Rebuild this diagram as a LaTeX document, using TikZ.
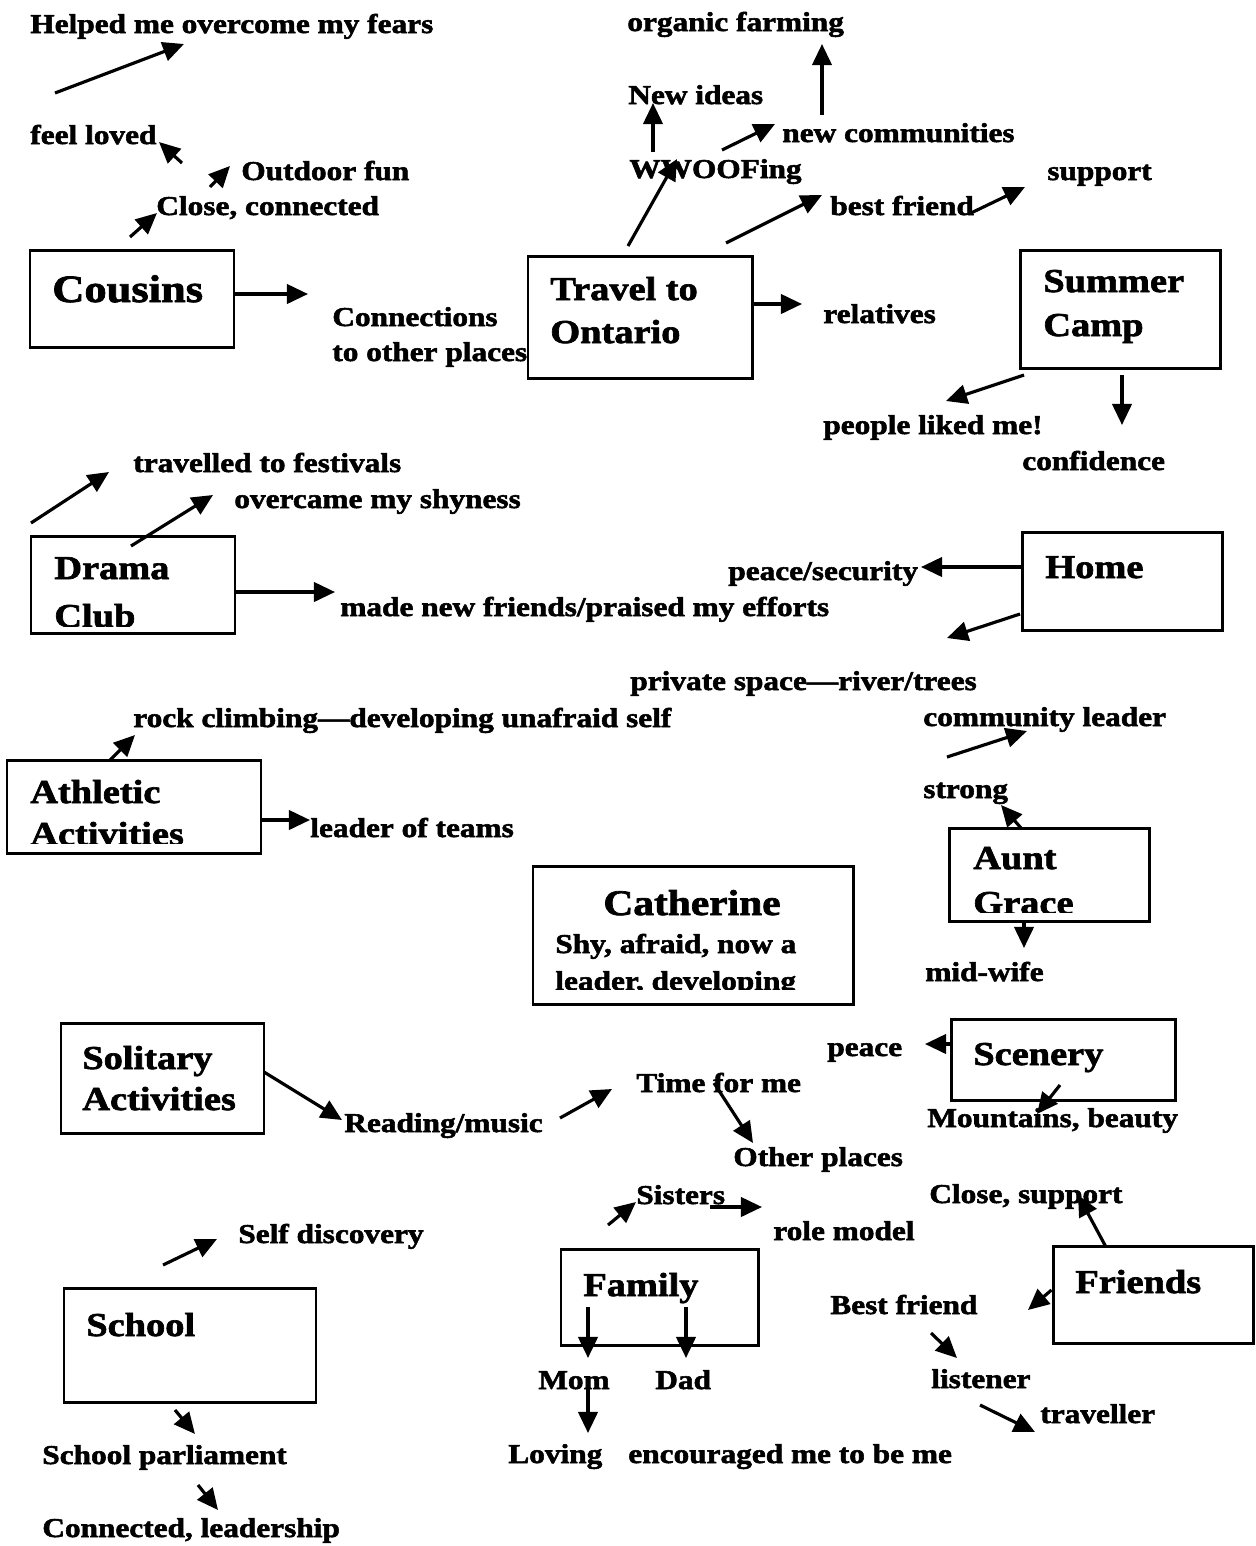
\documentclass[tikz,border=0pt]{standalone}
\usepackage{fontspec}
\setmainfont{Liberation Serif}[FakeStretch=1.15, BoldFont={Liberation Serif Bold}, BoldFeatures={FakeBold=2}]
\usepackage{tikz}
\usetikzlibrary{arrows.meta, fit}

\newcommand{\lblfont}{\fontsize{15.5}{17}\selectfont\bfseries}
\newcommand{\ttlfont}{\fontsize{19}{21}\selectfont\bfseries}

\tikzset{
  lbl/.style={anchor=base west, inner sep=0pt, font=\lblfont},
  ttl/.style={anchor=base west, inner sep=0pt, font=\ttlfont},
  box/.style={draw, line width=1.7pt, inner sep=0pt},
  arr/.style={line width=1.8pt, -{Triangle[length=12pt,width=11pt]}},
}

\begin{document}
\begin{tikzpicture}[x=0.02cm, y=-0.02cm]
    \path[use as bounding box, fill=white] (0,0) rectangle (1256,1546);

    % Boxes
    \node[box, fit={(30,250) (234,347)}] (cousins) {};
    \node[box, fit={(528,256) (752,378)}] (travel) {};
    \node[box, fit={(1020,250) (1220,368)}] (camp) {};
    \node[box, fit={(31,536) (235,633)}] (drama) {};
    \node[box, fit={(1022,532) (1222,630)}] (home) {};
    \node[box, fit={(7,760) (261,853)}] (athletic) {};
    \node[box, fit={(949,828) (1149,921)}] (aunt) {};
    \node[box, fit={(533,866) (853,1004)}] (catherine) {};
    \node[box, fit={(61,1023) (264,1133)}] (solitary) {};
    \node[box, fit={(951,1019) (1175,1100)}] (scenery) {};
    \node[box, fit={(561,1249) (758,1345)}] (family) {};
    \node[box, fit={(1053,1246) (1253,1343)}] (friends) {};
    \node[box, fit={(64,1288) (316,1402)}] (school) {};

    % Box titles
    \node[ttl, font=\fontsize{22}{24}\selectfont\bfseries] (cousinsT) at (52,302) {Cousins};
    \node[ttl] (travelT) at (550,300) {Travel to};
    \node[ttl] (travelU) at (550,343) {Ontario};
    \node[ttl] (campT) at (1043,292) {Summer};
    \node[ttl] (campU) at (1043,336) {Camp};
    \node[ttl] (dramaT) at (54,579) {Drama};
    \node[ttl] (homeT) at (1045,578) {Home};
    \node[ttl] (athleticT) at (30,803) {Athletic};
    \node[ttl] (auntT) at (973,869) {Aunt};
    \node[ttl, anchor=base, font=\fontsize{20.5}{22}\selectfont\bfseries] (catherineT) at (692,915) {Catherine};
    \node[lbl] (catherineU) at (555,953) {Shy, afraid, now a};
    \node[ttl] (solitaryT) at (82,1069) {Solitary};
    \node[ttl] (solitaryU) at (82,1110) {Activities};
    \node[ttl] (sceneryT) at (973,1065) {Scenery};
    \node[ttl] (familyT) at (583,1296) {Family};
    \node[ttl] (friendsT) at (1075,1293) {Friends};
    \node[ttl] (schoolT) at (86,1336) {School};

    % Lines cut off by the box bottoms
    \begin{scope}
        \clip (31,536) rectangle (235,626);
        \node[ttl] (dramaU) at (54,627) {Club};
    \end{scope}
    \begin{scope}
        \clip (7,760) rectangle (261,843);
        \node[ttl] (athleticU) at (30,845) {Activities};
    \end{scope}
    \begin{scope}
        \clip (949,828) rectangle (1149,912);
        \node[ttl] (auntU) at (973,914) {Grace};
    \end{scope}
    \begin{scope}
        \clip (533,866) rectangle (853,989);
        \node[lbl] (catherineV) at (555,990) {leader, developing};
    \end{scope}

    % Labels
    \node[lbl] (fears) at (30,33) {Helped me overcome my fears};
    \node[lbl] (organic) at (627,31) {organic farming};
    \node[lbl] (ideas) at (628,104) {New ideas};
    \node[lbl] (communities) at (782,142) {new communities};
    \node[lbl] (loved) at (30,144) {feel loved};
    \node[lbl] (wwoof) at (629,178) {WWOOFing};
    \node[lbl] (outdoor) at (241,180) {Outdoor fun};
    \node[lbl] (support) at (1047,180) {support};
    \node[lbl] (closeC) at (156,215) {Close, connected};
    \node[lbl] (bestfriend) at (830,215) {best friend};
    \node[lbl] (connect) at (332,326) {Connections};
    \node[lbl] (connectU) at (332,361) {to other places};
    \node[lbl] (relatives) at (823,323) {relatives};
    \node[lbl] (liked) at (823,434) {people liked me!};
    \node[lbl] (confidence) at (1022,470) {confidence};
    \node[lbl] (festivals) at (133,472) {travelled to festivals};
    \node[lbl] (shyness) at (234,508) {overcame my shyness};
    \node[lbl] (newfriends) at (340,616) {made new friends/praised my efforts};
    \node[lbl] (security) at (728,580) {peace/security};
    \node[lbl] (private) at (630,690) {private space---river/trees};
    \node[lbl] (rock) at (133,727) {rock climbing---developing unafraid self};
    \node[lbl] (commleader) at (923,726) {community leader};
    \node[lbl] (strong) at (923,798) {strong};
    \node[lbl] (teams) at (310,837) {leader of teams};
    \node[lbl] (midwife) at (925,981) {mid-wife};
    \node[lbl] (peace) at (827,1056) {peace};
    \node[lbl] (timeme) at (636,1092) {Time for me};
    \node[lbl] (reading) at (344,1132) {Reading/music};
    \node[lbl] (mountains) at (927,1127) {Mountains, beauty};
    \node[lbl] (places) at (733,1166) {Other places};
    \node[lbl] (sisters) at (636,1204) {Sisters};
    \node[lbl] (closeS) at (929,1203) {Close, support};
    \node[lbl] (role) at (773,1240) {role model};
    \node[lbl] (discovery) at (238,1243) {Self discovery};
    \node[lbl] (bestF) at (830,1314) {Best friend};
    \node[lbl] (mom) at (538,1389) {Mom};
    \node[lbl] (dad) at (655,1389) {Dad};
    \node[lbl] (listener) at (931,1388) {listener};
    \node[lbl] (traveller) at (1040,1423) {traveller};
    \node[lbl] (parliament) at (42,1464) {School parliament};
    \node[lbl] (loving) at (508,1463) {Loving};
    \node[lbl] (encouraged) at (628,1463) {encouraged me to be me};
    \node[lbl] (leadership) at (42,1537) {Connected, leadership};

    % Arrow ends
    \coordinate (fearsT) at (55,93);      \coordinate (fearsH) at (184,44);
    \coordinate (lovedT) at (182,163);    \coordinate (lovedH) at (159,142);
    \coordinate (funT) at (210,187);      \coordinate (funH) at (230,166);
    \coordinate (closeT) at (130,237);    \coordinate (closeH) at (157,213);
    \coordinate (connH) at (308,294);
    \coordinate (wwT) at (628,246);       \coordinate (wwH) at (677,159);
    \coordinate (ideaT) at (653,152);     \coordinate (ideaH) at (653,103);
    \coordinate (commT) at (722,150);     \coordinate (commH) at (775,124);
    \coordinate (orgT) at (822,115);      \coordinate (orgH) at (822,44);
    \coordinate (bfT) at (726,243);       \coordinate (bfH) at (822,195);
    \coordinate (supT) at (971,213);      \coordinate (supH) at (1025,187);
    \coordinate (relH) at (802,304);
    \coordinate (likedT) at (1024,375);   \coordinate (likedH) at (946,401);
    \coordinate (confT) at (1122,375);    \coordinate (confH) at (1122,425);
    \coordinate (festT) at (31,523);      \coordinate (festH) at (109,472);
    \coordinate (shyT) at (131,546);      \coordinate (shyH) at (213,495);
    \coordinate (nfH) at (335,592);
    \coordinate (secH) at (921,567);
    \coordinate (privT) at (1020,614);    \coordinate (privH) at (947,638);
    \coordinate (rockT) at (110,760);     \coordinate (rockH) at (135,735);
    \coordinate (teamH) at (310,820);
    \coordinate (cleadT) at (947,757);    \coordinate (cleadH) at (1027,731);
    \coordinate (strT) at (1021,828);     \coordinate (strH) at (1001,805);
    \coordinate (wifeH) at (1024,948);
    \coordinate (peaceH) at (925,1044);
    \coordinate (readT) at (264,1072);    \coordinate (readH) at (342,1120);
    \coordinate (timeT) at (560,1118);    \coordinate (timeH) at (612,1089);
    \coordinate (otherT) at (714,1083);   \coordinate (otherH) at (753,1143);
    \coordinate (mtnT) at (1060,1085);    \coordinate (mtnH) at (1037,1114);
    \coordinate (sisT) at (608,1225);     \coordinate (sisH) at (636,1202);
    \coordinate (roleT) at (710,1207);    \coordinate (roleH) at (762,1207);
    \coordinate (csT) at (1106,1247);     \coordinate (csH) at (1078,1195);
    \coordinate (bestS) at (1055,1290);   \coordinate (bestH) at (1028,1310);
    \coordinate (selfT) at (163,1265);    \coordinate (selfH) at (217,1239);
    \coordinate (momT) at (588,1307);     \coordinate (momH) at (588,1358);
    \coordinate (dadT) at (686,1307);     \coordinate (dadH) at (686,1358);
    \coordinate (lovT) at (588,1385);     \coordinate (lovH) at (588,1433);
    \coordinate (lisT) at (931,1333);     \coordinate (lisH) at (957,1358);
    \coordinate (travT) at (980,1405);    \coordinate (travH) at (1035,1432);
    \coordinate (parlT) at (175,1410);    \coordinate (parlH) at (195,1434);
    \coordinate (ldrT) at (198,1485);     \coordinate (ldrH) at (218,1510);

    % Cousins
    \draw[arr] (fearsT) -- (fearsH);
    \draw[arr] (lovedT) -- (lovedH);
    \draw[arr] (funT) -- (funH);
    \draw[arr] (closeT) -- (closeH);
    \draw[arr] (cousins.east |- connH) -- (connH);

    % Travel to Ontario
    \draw[arr] (wwT) -- (wwH);
    \draw[arr] (ideaT) -- (ideaH);
    \draw[arr] (commT) -- (commH);
    \draw[arr] (orgT) -- (orgH);
    \draw[arr] (bfT) -- (bfH);
    \draw[arr] (supT) -- (supH);
    \draw[arr] (travel.east |- relH) -- (relH);

    % Summer Camp
    \draw[arr] (likedT) -- (likedH);
    \draw[arr] (confT) -- (confH);

    % Drama Club
    \draw[arr] (festT) -- (festH);
    \draw[arr] (shyT) -- (shyH);
    \draw[arr] (drama.east |- nfH) -- (nfH);

    % Home
    \draw[arr] (home.west |- secH) -- (secH);
    \draw[arr] (privT) -- (privH);

    % Athletic Activities
    \draw[arr] (rockT) -- (rockH);
    \draw[arr] (athletic.east |- teamH) -- (teamH);

    % Aunt Grace
    \draw[arr] (cleadT) -- (cleadH);
    \draw[arr] (strT) -- (strH);
    \draw[arr] (aunt.south -| wifeH) -- (wifeH);

    % Solitary Activities and Scenery
    \draw[arr] (scenery.west |- peaceH) -- (peaceH);
    \draw[arr] (readT) -- (readH);
    \draw[arr] (timeT) -- (timeH);
    \draw[arr] (otherT) -- (otherH);
    \draw[arr] (mtnT) -- (mtnH);

    % Family and Friends
    \draw[arr] (sisT) -- (sisH);
    \draw[arr] (roleT) -- (roleH);
    \draw[arr] (csT) -- (csH);
    \draw[arr] (friends.west |- bestS) -- (bestH);
    \draw[arr] (momT) -- (momH);
    \draw[arr] (dadT) -- (dadH);
    \draw[arr] (lovT) -- (lovH);
    \draw[arr] (lisT) -- (lisH);
    \draw[arr] (travT) -- (travH);

    % School
    \draw[arr] (selfT) -- (selfH);
    \draw[arr] (parlT) -- (parlH);
    \draw[arr] (ldrT) -- (ldrH);
\end{tikzpicture}
\end{document}
